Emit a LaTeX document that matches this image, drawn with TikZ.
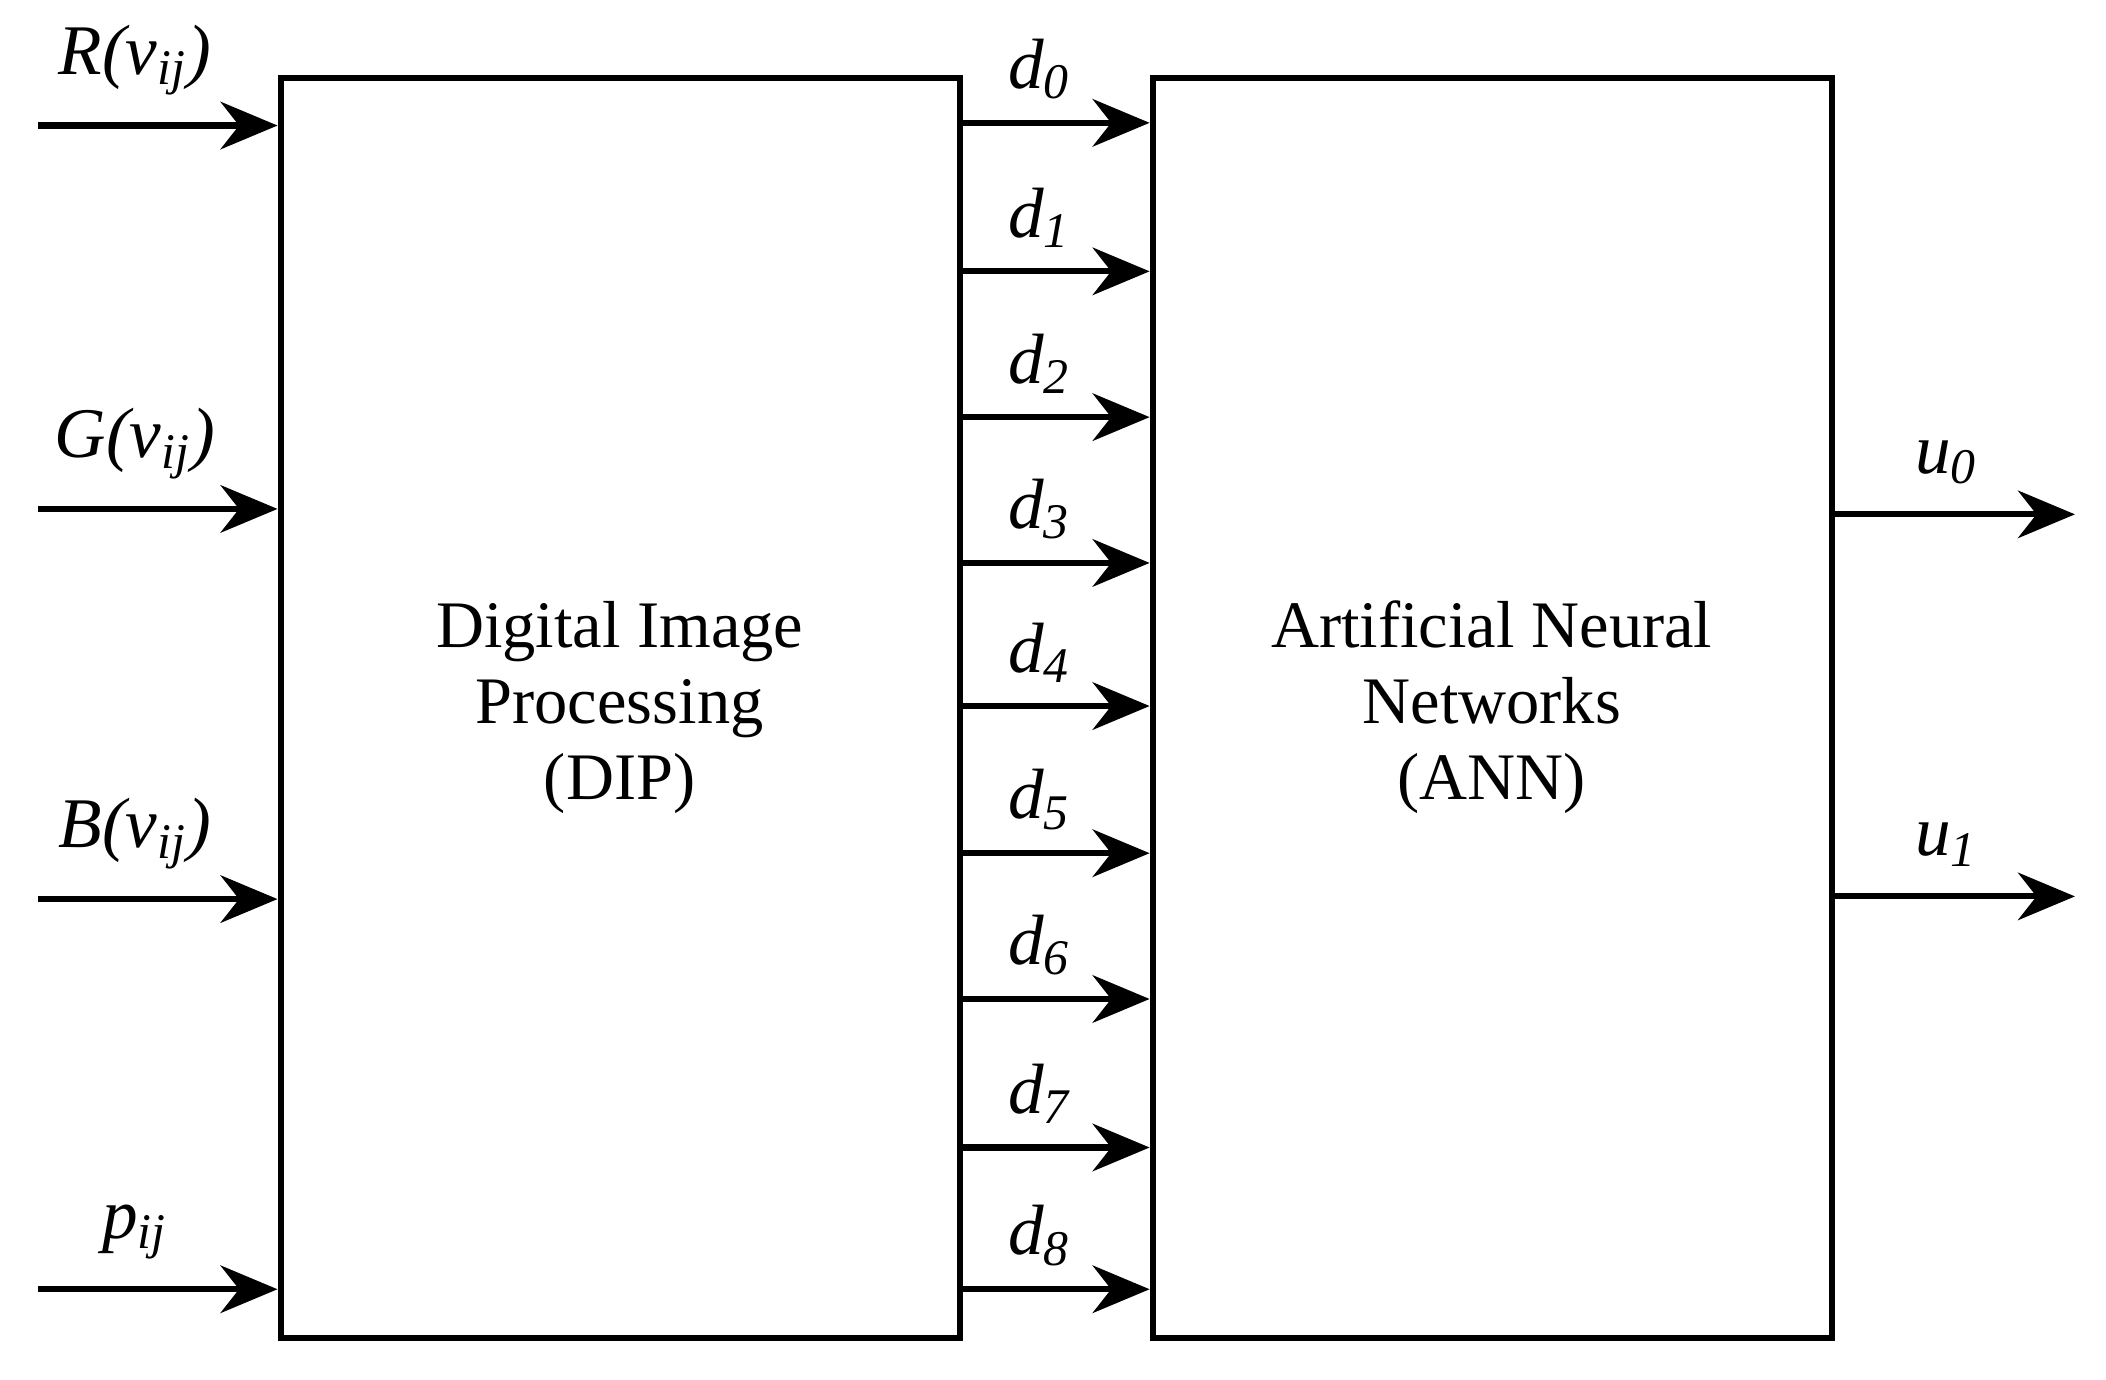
\documentclass[tikz,border=0pt]{standalone}
\usepackage{fontspec}
\setmainfont{Liberation Serif}
\usetikzlibrary{arrows.meta}
\begin{document}
\begin{tikzpicture}[x=0.01cm,y=-0.01cm,
  blk/.style={draw,line width=1.3pt,inner sep=0pt},
  arr/.style={line width=1.3pt,-{Stealth[length=12pt,width=10pt]}},
  lbl/.style={font=\fontsize{15}{17}\selectfont\itshape,anchor=south},
  txt/.style={font=\fontsize{14}{16}\selectfont,align=center}]
\useasboundingbox (0,0) rectangle (1560,1022);
\node[blk,minimum width=5.03cm,minimum height=9.33cm] (dip) at (459.5,524.5) {};
\node[blk,minimum width=5.03cm,minimum height=9.33cm] (ann) at (1105.5,524.5) {};
\node[txt] (diptxt) at (459,524) {Digital Image\\Processing\\(DIP)};
\node[txt] (anntxt) at (1105,524) {Artificial Neural\\Networks\\(ANN)};
\foreach \y/\t [count=\i] in {93/{R(v\textsubscript{ij})},377/{G(v\textsubscript{ij})},666/{B(v\textsubscript{ij})},955/{p\textsubscript{ij}}}{
  \coordinate (in\i) at (28,\y);
  \draw[arr] (in\i) -- (dip.west |- in\i);
  \node[lbl] (inl\i) at (100,\y-10) {\t};
}
\foreach \y [count=\i from 0] in {91,201,309,417,523,632,740,850,955}{
  \coordinate (d\i) at (711,\y);
  \draw[arr] (d\i) -- (ann.west |- d\i);
  \node[lbl] (dl\i) at (770,\y-5) {d\textsubscript{\i}};
}
\foreach \y [count=\i from 0] in {381,664}{
  \coordinate (o\i) at (1537,\y);
  \draw[arr] (ann.east |- o\i) -- (o\i);
  \node[lbl] (ol\i) at (1442,\y-10) {u\textsubscript{\i}};
}
\end{tikzpicture}
\end{document}
